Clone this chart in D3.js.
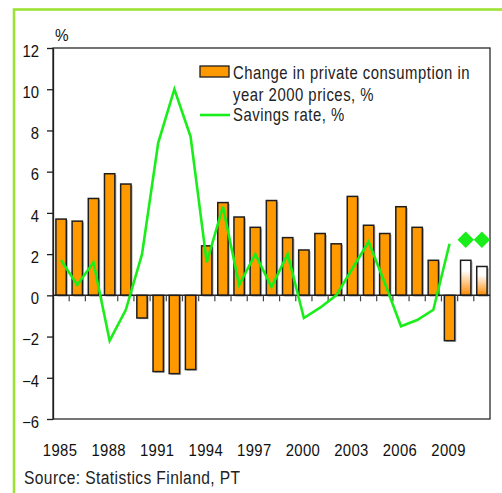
<!DOCTYPE html>
<html>
<head>
<meta charset="utf-8">
<script src="https://cdn.jsdelivr.net/npm/d3@7"></script>
<style>
  html, body { margin: 0; padding: 0; background: #fff; overflow: hidden; }
  svg { display: block; font-family: "Liberation Sans", Arial, sans-serif; }
</style>
</head>
<body>
<div id="chart"></div>
<script>
// --- data ---
const years = [1985, 1986, 1987, 1988, 1989, 1990, 1991, 1992, 1993, 1994,
               1995, 1996, 1997, 1998, 1999, 2000, 2001, 2002, 2003, 2004,
               2005, 2006, 2007, 2008, 2009, 2010, 2011];
// change in private consumption, year 2000 prices, %
const consumption = [3.7, 3.6, 4.7, 5.9, 5.4, -1.1, -3.7, -3.8, -3.6, 2.4,
                     4.5, 3.8, 3.3, 4.6, 2.8, 2.2, 3.0, 2.5, 4.8, 3.4,
                     3.0, 4.3, 3.3, 1.7, -2.2, 1.7, 1.4];
const forecastYears = [2010, 2011];
// savings rate, % (actual)
const savingsYears = years.slice(0, 25);
const savings = [1.7, 0.5, 1.6, -2.2, -0.7, 2.0, 7.4, 10.0, 7.7, 1.6,
                 4.3, 0.5, 2.0, 0.4, 2.0, -1.1, -0.6, 0.0, 1.3, 2.6,
                 0.6, -1.5, -1.2, -0.7, 2.5];
// savings rate forecast
const savingsForecast = [2.7, 2.7];
const yTicks = [-6, -4, -2, 0, 2, 4, 6, 8, 10, 12];
const xLabels = [1985, 1988, 1991, 1994, 1997, 2000, 2003, 2006, 2009];
const legendLabels = ["Change in private consumption in", "year 2000 prices, %", "Savings rate, %"];
const sourceText = "Source: Statistics Finland, PT";

const W = 502, H = 493;
const plot = {left: 53, right: 490, top: 48, bottom: 419};
const sx = 0.9;             // text looks horizontally squeezed
const orange = '#ff9900', green = '#1aee1a', ink = '#1e1e1e';

const svg = d3.select('#chart').append('svg')
    .attr('width', W).attr('height', H);

// outer light green frame (runs off the right/bottom edge)
svg.append('rect')
    .attr('x', 14).attr('y', 9.5)
    .attr('width', 700).attr('height', 700)
    .attr('fill', 'none')
    .attr('stroke', '#9de234')
    .attr('stroke-width', 2.6);

const y = d3.scaleLinear().domain([-6, 12]).range([plot.bottom, plot.top]);
const xb = d3.scaleBand().domain(years).range([plot.left, plot.right]);
const x = d3.scaleBand().domain(years).range([plot.left, plot.right])
    .paddingInner(0.36).paddingOuter(0.18);
const cx = d => xb(d) + xb.bandwidth() / 2;

const defs = svg.append('defs');
const grad = defs.append('linearGradient')
    .attr('id', 'fc').attr('x1', 0).attr('y1', 0).attr('x2', 0).attr('y2', 1);
grad.append('stop').attr('offset', 0).attr('stop-color', '#ffffff');
grad.append('stop').attr('offset', 0.3).attr('stop-color', '#ffffff');
grad.append('stop').attr('offset', 1).attr('stop-color', '#ff8a00');

// plot frame
svg.append('rect')
    .attr('x', plot.left).attr('y', plot.top)
    .attr('width', plot.right - plot.left).attr('height', plot.bottom - plot.top)
    .attr('fill', 'none').attr('stroke', '#2a2a2a').attr('stroke-width', 1.3);

// y axis
const yAxis = svg.append('g')
    .attr('transform', `translate(${plot.left},0)`)
    .call(d3.axisLeft(y).tickValues(yTicks).tickSize(6).tickPadding(9.5).tickSizeOuter(0));
yAxis.select('.domain').attr('stroke', ink).attr('stroke-width', 1.3);
yAxis.selectAll('.tick line').attr('stroke', ink).attr('stroke-width', 1.3);
yAxis.selectAll('.tick text')
    .attr('fill', '#111').attr('font-size', 16.5).attr('font-family', null)
    .attr('dy', '0.5em')
    .attr('transform', `scale(${sx},1)`);

const rows = consumption.map((v, i) => ({year: years[i], value: v,
    forecast: forecastYears.includes(years[i])}));

// bar shadows
svg.append('g').selectAll('rect')
    .data(rows).join('rect')
    .attr('x', d => x(d.year) + 1.6)
    .attr('y', d => Math.min(y(d.value), y(0)) + 1.2)
    .attr('width', x.bandwidth())
    .attr('height', d => Math.abs(y(d.value) - y(0)))
    .attr('fill', '#b4b4b4');

// bars
svg.append('g').selectAll('rect')
    .data(rows).join('rect')
    .attr('x', d => x(d.year))
    .attr('y', d => Math.min(y(d.value), y(0)))
    .attr('width', x.bandwidth())
    .attr('height', d => Math.abs(y(d.value) - y(0)))
    .attr('fill', d => d.forecast ? 'url(#fc)' : orange)
    .attr('stroke', ink).attr('stroke-width', 1.5);

// zero line with ticks between categories
svg.append('line')
    .attr('x1', plot.left).attr('x2', plot.right)
    .attr('y1', y(0)).attr('y2', y(0))
    .attr('stroke', ink).attr('stroke-width', 1.5);
svg.append('g').selectAll('line')
    .data(years.slice(1)).join('line')
    .attr('x1', d => xb(d)).attr('x2', d => xb(d))
    .attr('y1', y(0)).attr('y2', y(0) + 6)
    .attr('stroke', '#444').attr('stroke-width', 1.2);

// x labels
svg.append('g').selectAll('text')
    .data(xLabels).join('text')
    .attr('transform', d => `translate(${cx(d) - 1},456) scale(${sx},1)`)
    .attr('text-anchor', 'middle')
    .attr('font-size', 16.5).attr('fill', '#111')
    .attr('letter-spacing', 0.4)
    .text(d => d);

// savings rate line
const line = d3.line().x(d => cx(d[0])).y(d => y(d[1]));
svg.append('path')
    .datum(savingsYears.map((yr, i) => [yr, savings[i]]))
    .attr('d', line)
    .attr('fill', 'none').attr('stroke', green)
    .attr('stroke-width', 2.6).attr('stroke-linejoin', 'miter');

// forecast diamonds
svg.append('g').selectAll('path')
    .data(forecastYears.map((yr, i) => [yr, savingsForecast[i]])).join('path')
    .attr('d', d3.symbol(d3.symbolSquare, 135)())
    .attr('transform', d => `translate(${cx(d[0])},${y(d[1])}) rotate(45)`)
    .attr('fill', green);

// "%" unit
svg.append('text')
    .attr('transform', `translate(55,41) scale(${sx},1)`)
    .attr('font-size', 17).attr('fill', '#111')
    .text('%');

// legend
const legend = svg.append('g');
legend.append('rect')
    .attr('x', 200).attr('y', 66).attr('width', 29).attr('height', 11)
    .attr('fill', orange).attr('stroke', ink).attr('stroke-width', 1.3);
legend.append('line')
    .attr('x1', 200).attr('x2', 230).attr('y1', 115).attr('y2', 115)
    .attr('stroke', green).attr('stroke-width', 2.6);
legend.selectAll('text')
    .data(legendLabels).join('text')
    .attr('transform', (d, i) => `translate(233,${[79, 101, 121][i]}) scale(0.85,1)`)
    .attr('font-size', 17.5).attr('fill', '#222')
    .attr('letter-spacing', 0.6)
    .text(d => d);

// source
svg.append('text')
    .attr('transform', `translate(24,484) scale(0.82,1)`)
    .attr('font-size', 19).attr('fill', '#222')
    .attr('letter-spacing', 0.5)
    .text(sourceText);
</script>
</body>
</html>
